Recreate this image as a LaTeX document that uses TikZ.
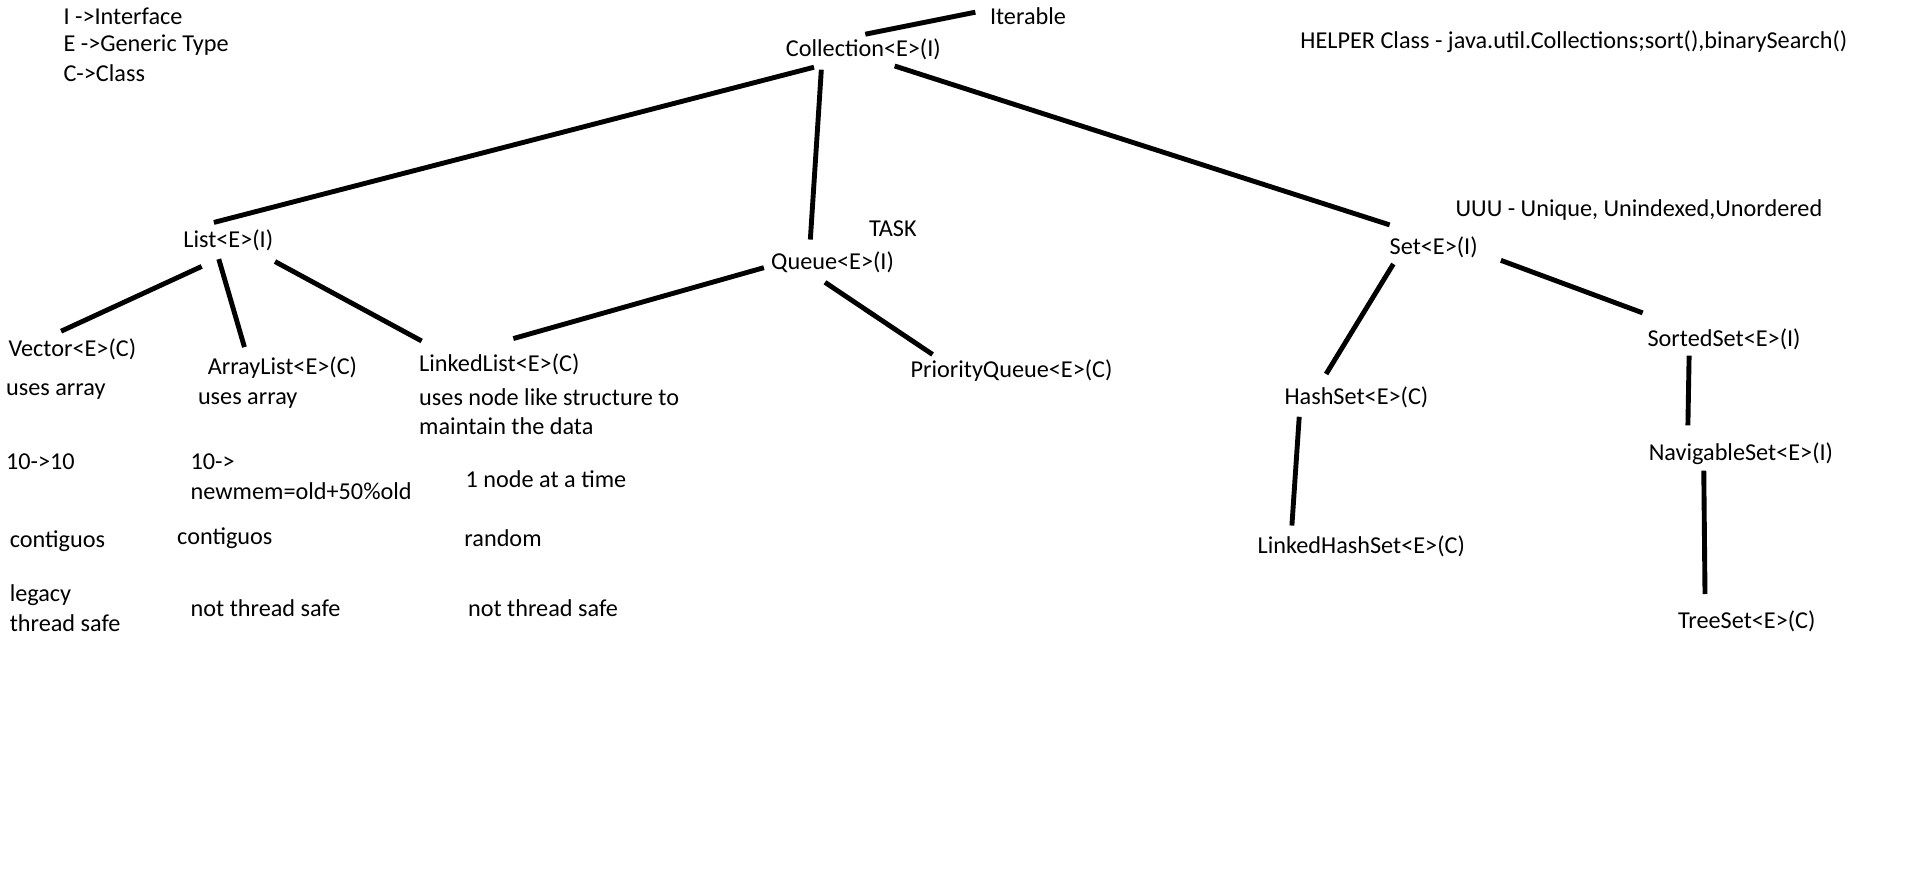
\documentclass[tikz,border=0pt]{standalone}
\usepackage{fontspec}
\setmainfont{Carlito}
\begin{document}
\begin{tikzpicture}[x=0.6pt,y=-0.6pt,
  txt/.style={anchor=west,inner sep=0pt,outer sep=0pt,font=\fontsize{11.9}{14}\selectfont},
  conn/.style={line width=2.4pt,black}]
\useasboundingbox[fill=white] (0,0) rectangle (1566,711);
% legend and notes
\node[txt] (legI) at (52,13) {I ->Interface};
\node[txt] (legE) at (52,37) {E ->Generic Type};
\node[txt] (legC) at (52,60) {C->Class};
\node[txt] (helper) at (1064,34) {HELPER Class - java.util.Collections;sort(),binarySearch()};
\node[txt] (task) at (711,187) {TASK};
\node[txt] (uuu) at (1191,172) {UUU - Unique, Unindexed,Unordered};
% hierarchy nodes
\node[txt] (coll) at (643,40) {Collection<E>(I)};
\node[txt] (iter) at (810,13) {Iterable};
\node[txt] (list) at (150,197) {List<E>(I)};
\node[txt] (queue) at (631,215) {Queue<E>(I)};
\node[txt] (set) at (1137,202) {Set<E>(I)};
\node[txt] (vector) at (7,286) {Vector<E>(C)};
\node[txt] (arrlist) at (170,301) {ArrayList<E>(C)};
\node[txt] (linkedlist) at (343,298) {LinkedList<E>(C)};
\node[txt] (pq) at (745,303) {PriorityQueue<E>(C)};
\node[txt] (sorted) at (1348,278) {SortedSet<E>(I)};
\node[txt] (hash) at (1051,325) {HashSet<E>(C)};
\node[txt] (nav) at (1349,371) {NavigableSet<E>(I)};
\node[txt] (lhs) at (1029,447) {LinkedHashSet<E>(C)};
\node[txt] (tree) at (1373,508) {TreeSet<E>(C)};
% notes under list classes
\node[txt] (v1) at (5,320) {uses array};
\node[txt] (v2) at (5,378) {10->10};
\node[txt] (v3) at (8,443) {contiguos};
\node[txt] (v4) at (8,487) {legacy};
\node[txt] (v5) at (8,510) {thread safe};
\node[txt] (a1) at (162,328) {uses array};
\node[txt] (a2) at (156,378) {10->};
\node[txt] (a3) at (156,402) {newmem=old+50\%old};
\node[txt] (a4) at (145,440) {contiguos};
\node[txt] (a5) at (156,498) {not thread safe};
\node[txt] (l1) at (343,325) {uses node like structure to};
\node[txt] (l2) at (343,349) {maintain the data};
\node[txt] (l3) at (381,392) {1 node at a time};
\node[txt] (l4) at (380,440) {random};
\node[txt] (l5) at (383,498) {not thread safe};
% connectors
\draw[conn] ([shift={(65,-12)}]coll.west) -- ([shift={(-12,-3)}]iter.west);
\draw[conn] ([shift={(23,15)}]coll.west) -- ([shift={(25,-15)}]list.west);
\draw[conn] ([shift={(29,17)}]coll.west) -- ([shift={(32,-19)}]queue.west);
\draw[conn] ([shift={(89,14)}]coll.west) -- ([shift={(0,-18)}]set.west);
\draw[conn] ([shift={(15,21)}]list.west) -- ([shift={(43,-15)}]vector.west);
\draw[conn] ([shift={(29,15)}]list.west) -- ([shift={(30,-17)}]arrlist.west);
\draw[conn] ([shift={(75,17)}]list.west) -- ([shift={(2,-19)}]linkedlist.west);
\draw[conn] ([shift={(-6,4)}]queue.west) -- ([shift={(77,-21)}]linkedlist.west);
\draw[conn] ([shift={(44,16)}]queue.west) -- ([shift={(18,-13)}]pq.west);
\draw[conn] ([shift={(3,14)}]set.west) -- ([shift={(34,-19)}]hash.west);
\draw[conn] ([shift={(91,11)}]set.west) -- ([shift={(-4,-22)}]sorted.west);
\draw[conn] ([shift={(34,13)}]sorted.west) -- ([shift={(32,-23)}]nav.west);
\draw[conn] ([shift={(12,16)}]hash.west) -- ([shift={(28,-17)}]lhs.west);
\draw[conn] ([shift={(45,14)}]nav.west) -- ([shift={(22,-22)}]tree.west);
\end{tikzpicture}
\end{document}
